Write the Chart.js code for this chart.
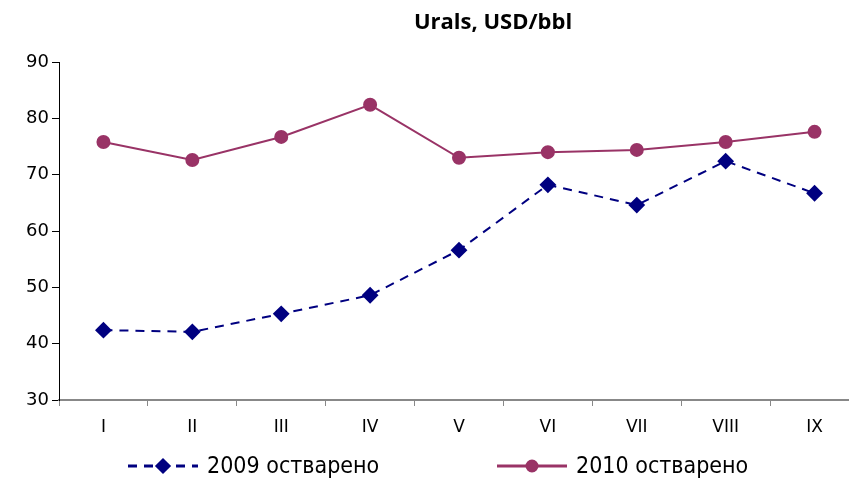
<!DOCTYPE html>
<html>
<head>
<meta charset="utf-8">
<title>Urals, USD/bbl</title>
<script src="https://cdn.jsdelivr.net/npm/chart.js"></script>
<style>
  html, body { margin: 0; padding: 0; background: #fff; overflow: hidden; }
  #wrap { width: 870px; height: 480px; position: relative; }
</style>
</head>
<body>
<div id="wrap"><canvas id="chart"></canvas></div>
<script>
// months (roman numerals) and Urals price, USD/bbl
const months = ['I', 'II', 'III', 'IV', 'V', 'VI', 'VII', 'VIII', 'IX'];
const urals2009 = [42.4, 42.1, 45.3, 48.6, 56.6, 68.2, 64.6, 72.4, 66.7];
const urals2010 = [75.8, 72.6, 76.7, 82.4, 73.0, 74.0, 74.4, 75.8, 77.6];
const labels = ['2009 остварено', '2010 остварено'];
const yTicks = [30, 40, 50, 60, 70, 80, 90];

const navy = '#000080';
const plum = '#993366';
const legendFont = '23px "Liberation Sans Narrow", "DejaVu Sans Condensed", sans-serif';

// title + Excel-style legend (line with marker in the middle)
const decor = {
  id: 'decor',
  afterDraw(chart) {
    const ctx = chart.ctx;
    ctx.save();
    ctx.fillStyle = '#000';
    ctx.font = 'bold 22px "Open Sans", "DejaVu Sans", sans-serif';
    ctx.textAlign = 'center';
    ctx.textBaseline = 'middle';
    ctx.fillText('Urals, USD/bbl', 493, 23);

    const y = 466;
    const items = [
      { x: 128, ds: chart.data.datasets[0] },
      { x: 497, ds: chart.data.datasets[1] }
    ];
    items.forEach(it => {
      const ds = it.ds;
      ctx.strokeStyle = ds.borderColor;
      ctx.lineWidth = 3;
      ctx.setLineDash(ds.borderDash || []);
      ctx.beginPath();
      ctx.moveTo(it.x, y);
      ctx.lineTo(it.x + 70, y);
      ctx.stroke();
      ctx.setLineDash([]);
      Chart.helpers.drawPoint(ctx, {
        pointStyle: ds.pointStyle,
        radius: ds.pointRadius - 1,
        borderWidth: 1
      }, it.x + 35, y);
      ctx.fillStyle = ds.pointBackgroundColor;
      ctx.fill();
      ctx.fillStyle = '#000';
      ctx.font = legendFont;
      ctx.textAlign = 'left';
      ctx.fillText(ds.label, it.x + 79, y + 1);
    });
    ctx.restore();
  }
};

new Chart(document.getElementById('chart'), {
  type: 'line',
  data: {
    labels: months,
    datasets: [
      {
        label: labels[0],
        data: urals2009,
        borderColor: navy,
        backgroundColor: navy,
        pointBackgroundColor: navy,
        pointBorderColor: navy,
        borderWidth: 2,
        borderDash: [9, 7],
        pointStyle: 'rectRot',
        pointRadius: 7,
        pointHoverRadius: 7,
        tension: 0
      },
      {
        label: labels[1],
        data: urals2010,
        borderColor: plum,
        backgroundColor: plum,
        pointBackgroundColor: plum,
        pointBorderColor: plum,
        borderWidth: 2,
        pointStyle: 'circle',
        pointRadius: 6,
        pointHoverRadius: 6,
        tension: 0
      }
    ]
  },
  options: {
    responsive: true,
    maintainAspectRatio: false,
    animation: false,
    layout: { padding: { top: 62, right: 11, left: 0, bottom: 0 } },
    plugins: {
      legend: { display: false },
      title: { display: false },
      tooltip: { enabled: false }
    },
    scales: {
      x: {
        offset: true,
        grid: {
          offset: true,
          drawOnChartArea: false,
          tickLength: 6,
          color: '#888'
        },
        border: { color: '#888', width: 2 },
        ticks: {
          color: '#000',
          padding: 11,
          font: { family: '"DejaVu Sans", sans-serif', size: 17 }
        },
        afterFit(s) { s.height = 80; }
      },
      y: {
        min: 30,
        max: 90,
        afterBuildTicks(s) { s.ticks = yTicks.map(v => ({ value: v })); },
        grid: {
          drawOnChartArea: false,
          tickLength: 7,
          color: '#000'
        },
        border: { color: '#000', width: 1 },
        ticks: {
          color: '#000',
          padding: 3,
          font: { family: '"DejaVu Sans", sans-serif', size: 18 }
        },
        afterFit(s) { s.width = 59; }
      }
    }
  },
  plugins: [decor]
});
</script>
</body>
</html>
